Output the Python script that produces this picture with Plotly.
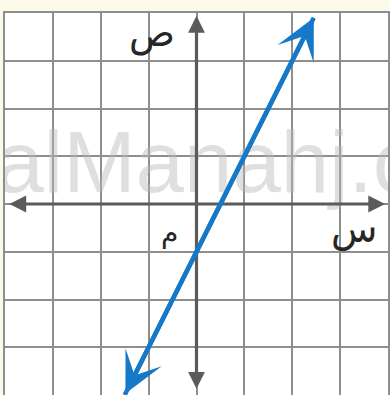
import plotly.graph_objects as go

# Coordinate window (grid units)
x_range = [-4, 4]
y_range = [-4, 4]

# Endpoints of the graphed line (arrow tips)
line_x = [-1.5, 2.45]
line_y = [-4.0, 3.9]

# Axis arrow tips
x_axis_tips = [-3.94, 3.94]
y_axis_tips = [-3.9, 3.94]

# Axis / origin labels: text, x, y, size
labels = [
    ("ص", -0.92, 3.58, 38),
    ("م", -0.56, -0.6, 28),
    ("س", 3.3, -0.52, 38),
]

LINE_BLUE = "#1678c8"
AXIS_GREY = "#5b5b5b"
GRID_GREY = "#8e8e8e"

fig = go.Figure()

# faint site watermark behind everything
fig.add_trace(go.Scatter(
    x=[-4.2], y=[0.7], mode="text", text=["alManahj.com"],
    textposition="middle right",
    textfont=dict(family="Liberation Sans", size=87, color="rgba(185,185,185,0.45)"),
    hoverinfo="skip", showlegend=False,
))

# the graphed line
fig.add_trace(go.Scatter(
    x=line_x, y=line_y, mode="lines",
    line=dict(color=LINE_BLUE, width=4.5),
    hoverinfo="skip", showlegend=False,
))

annotations = []
# x and y axes with arrowheads at both ends
annotations.append(dict(
    x=x_axis_tips[1], y=0, ax=x_axis_tips[0], ay=0,
    xref="x", yref="y", axref="x", ayref="y", text="",
    showarrow=True, arrowhead=2, startarrowhead=2, arrowside="end+start",
    arrowsize=1.05, startarrowsize=1.05, arrowwidth=3.2, arrowcolor=AXIS_GREY,
))
annotations.append(dict(
    x=0, y=y_axis_tips[1], ax=0, ay=y_axis_tips[0],
    xref="x", yref="y", axref="x", ayref="y", text="",
    showarrow=True, arrowhead=2, startarrowhead=2, arrowside="end+start",
    arrowsize=1.05, startarrowsize=1.05, arrowwidth=3.2, arrowcolor=AXIS_GREY,
))
# arrowheads on the graphed line
annotations.append(dict(
    x=line_x[1], y=line_y[1], ax=line_x[0], ay=line_y[0],
    xref="x", yref="y", axref="x", ayref="y", text="",
    showarrow=True, arrowhead=3, startarrowhead=3, arrowside="end+start",
    arrowsize=1.5, startarrowsize=1.5, arrowwidth=4.5, arrowcolor=LINE_BLUE,
))

for txt, lx, ly, sz in labels:
    annotations.append(dict(
        x=lx, y=ly, xref="x", yref="y", text=txt, showarrow=False,
        font=dict(family="DejaVu Sans", size=sz, color="#262626"),
    ))

fig.update_layout(
    width=390, height=395,
    margin=dict(l=5, r=2, t=13, b=0),
    paper_bgcolor="#fcf9e8",
    plot_bgcolor="#ffffff",
    showlegend=False,
    annotations=annotations,
)

axis_common = dict(
    dtick=1, tick0=0, showticklabels=False, ticks="",
    showgrid=True, gridcolor=GRID_GREY, gridwidth=2,
    zeroline=False, showline=True, linecolor=GRID_GREY, linewidth=2, mirror=True,
    fixedrange=True,
)
fig.update_xaxes(range=x_range, **axis_common)
fig.update_yaxes(range=y_range, **axis_common)

fig.write_html("out.html")
